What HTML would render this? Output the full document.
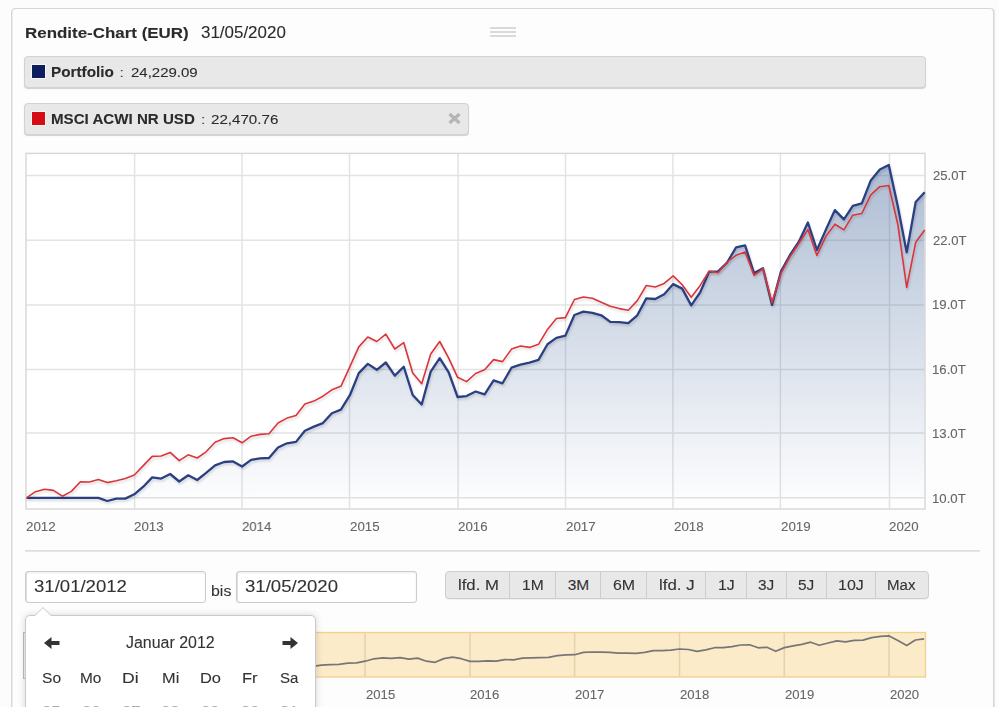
<!DOCTYPE html>
<html><head><meta charset="utf-8">
<style>
html,body{margin:0;padding:0;}
body{width:999px;height:707px;overflow:hidden;background:#fcfcfc;font-family:"Liberation Sans",sans-serif;position:relative;}
.abs{position:absolute;}
.t{position:absolute;white-space:nowrap;-webkit-text-stroke:0.1px;}
#panel{left:11px;top:8px;width:981px;height:720px;border:1px solid #d6d6d6;border-radius:4px;background:#fdfdfd;box-shadow:inset 1px 0 0 #ececec,1px 0 0 #e6e6e6;}
.title{left:26px;top:23px;font-size:14px;font-weight:bold;color:#2b2b2b;white-space:nowrap;}
.date{left:202px;top:23px;font-size:14px;color:#2b2b2b;white-space:nowrap;}
.ham{left:490px;width:26px;height:1.5px;background:#dadada;}
.leg{left:24px;height:30px;background:#e8e8e8;border:1px solid #d2d2d2;border-radius:4px;box-shadow:0 1px 1px rgba(0,0,0,0.18);}
.sq{position:absolute;left:7px;top:7.5px;width:13px;height:13px;box-shadow:0 0 0 1px rgba(255,255,255,0.7);}
.lt{position:absolute;left:27px;top:8px;font-size:13px;color:#2b2b2b;white-space:nowrap;}
.lt b{font-weight:bold;}
.ylab{left:933px;font-size:12px;color:#666;white-space:nowrap;}
.xlab{font-size:12px;color:#666;white-space:nowrap;top:519px;}
.nlab{font-size:12px;color:#666;white-space:nowrap;top:687px;}
.inp{top:571px;height:32px;border:1px solid #cccccc;background:#fff;border-radius:3px;box-shadow:inset 0 1px 2px rgba(0,0,0,0.08),inset 1px 0 0 #e4e4e4;font-size:16px;color:#333;box-sizing:border-box;padding-left:9px;line-height:28px;}
.bis{left:211px;top:583px;font-size:15px;color:#333;}
#btns{left:445px;top:571px;height:26px;border:1px solid #cdcdcd;border-radius:4px;background:#e8e8e8;overflow:hidden;display:flex;box-shadow:0 1px 0 rgba(0,0,0,0.05);}
#btns div{height:26px;line-height:26px;flex:none;text-align:center;font-size:15px;color:#333;border-left:1px solid #cdcdcd;box-sizing:border-box;}
#btns div:first-child{border-left:none;}
#pop{left:25px;top:615px;width:289px;height:120px;background:#fff;border:1px solid #c9c9c9;border-radius:5px;box-shadow:0 0 7px rgba(0,0,0,0.16);}
.wd{top:670px;font-size:15px;color:#333;white-space:nowrap;}
</style></head><body>
<div id="panel" class="abs"></div>
<div class="abs ham" style="top:27px"></div>
<div class="abs ham" style="top:31px"></div>
<div class="abs ham" style="top:35px"></div>

<div class="abs leg" style="top:56px;width:900px;"><div class="sq" style="background:#0c1e5e"></div></div>
<div class="abs leg" style="top:103px;width:443px;"><div class="sq" style="background:#d40e14"></div>
<svg style="position:absolute;left:422px;top:8px" width="15" height="13" viewBox="0 0 15 13"><path d="M2.5,2 L12.5,11 M12.5,2 L2.5,11" stroke="#b5b5b5" stroke-width="3.3"/></svg></div>

<svg class="abs" style="left:0;top:0" width="999" height="707">
<defs>
<linearGradient id="g1" x1="0" y1="165" x2="0" y2="510" gradientUnits="userSpaceOnUse">
<stop offset="0" stop-color="#28508c" stop-opacity="0.38"/>
<stop offset="1" stop-color="#28508c" stop-opacity="0"/>
</linearGradient>
<filter id="sh" x="-5%" y="-5%" width="110%" height="110%"><feGaussianBlur in="SourceAlpha" stdDeviation="1"/><feOffset dx="1" dy="1.5"/><feComponentTransfer><feFuncA type="linear" slope="0.15"/></feComponentTransfer><feMerge><feMergeNode/><feMergeNode in="SourceGraphic"/></feMerge></filter>
</defs>
<rect x="25.5" y="153.5" width="900" height="356" fill="#fff" stroke="none"/>
<g stroke="#e3e3e3" stroke-width="1.5" fill="none">
<path d="M26,175.5H925 M26,240.2H925 M26,304.9H925 M26,369.6H925 M26,433.0H925 M26,497.8H925"/>
<path d="M134.6,154V509 M242.0,154V509 M349.5,154V509 M458.1,154V509 M565.5,154V509 M672.9,154V509 M780.4,154V509 M889.5,154V509"/>
</g>
<path d="M26.5,509.5 L26.5,497.9 L35.5,497.9 L44.5,497.9 L53.4,497.9 L62.4,497.9 L71.4,497.9 L80.4,497.9 L89.4,497.9 L98.4,497.9 L107.3,501.0 L116.3,498.6 L125.3,498.6 L134.3,494.3 L143.3,486.7 L152.2,477.4 L161.2,478.6 L170.2,474.0 L179.2,481.5 L188.2,475.3 L197.2,480.0 L206.1,472.9 L215.1,465.4 L224.1,462.0 L233.1,461.4 L242.1,466.5 L251.1,459.9 L260.0,458.4 L269.0,458.0 L278.0,447.5 L287.0,443.3 L296.0,441.9 L304.9,430.8 L313.9,426.6 L322.9,423.1 L331.9,413.2 L340.9,409.6 L349.9,395.2 L358.8,373.1 L367.8,363.9 L376.8,369.8 L385.8,362.5 L394.8,375.6 L403.7,366.7 L412.7,395.0 L421.7,404.5 L430.7,371.6 L439.7,358.2 L448.7,372.4 L457.6,397.0 L466.6,396.1 L475.6,391.5 L484.6,394.4 L493.6,380.3 L502.5,383.3 L511.5,367.7 L520.5,364.7 L529.5,362.6 L538.5,359.9 L547.5,344.3 L556.4,337.9 L565.4,335.6 L574.4,315.0 L583.4,311.7 L592.4,312.9 L601.3,315.3 L610.3,321.9 L619.3,322.2 L628.3,323.1 L637.3,315.3 L646.3,298.4 L655.2,299.0 L664.2,294.2 L673.2,284.1 L682.2,288.6 L691.2,305.4 L700.2,292.4 L709.1,271.8 L718.1,271.4 L727.1,262.5 L736.1,247.3 L745.1,245.4 L754.0,273.1 L763.0,268.3 L772.0,304.9 L781.0,271.4 L790.0,255.0 L799.0,241.5 L807.9,222.5 L816.9,250.0 L825.9,229.6 L834.9,210.1 L843.9,219.4 L852.8,205.8 L861.8,203.3 L870.8,180.4 L879.8,169.5 L888.8,164.9 L897.8,206.2 L906.7,252.4 L915.7,202.0 L924.7,192.3 L924.7,509.5 Z" fill="url(#g1)"/>
<rect x="26" y="153.4" width="899" height="355.6" fill="none" stroke="#d6d6d6" stroke-width="1.4"/>
<polyline points="26.5,497.9 35.5,497.9 44.5,497.9 53.4,497.9 62.4,497.9 71.4,497.9 80.4,497.9 89.4,497.9 98.4,497.9 107.3,501.0 116.3,498.6 125.3,498.6 134.3,494.3 143.3,486.7 152.2,477.4 161.2,478.6 170.2,474.0 179.2,481.5 188.2,475.3 197.2,480.0 206.1,472.9 215.1,465.4 224.1,462.0 233.1,461.4 242.1,466.5 251.1,459.9 260.0,458.4 269.0,458.0 278.0,447.5 287.0,443.3 296.0,441.9 304.9,430.8 313.9,426.6 322.9,423.1 331.9,413.2 340.9,409.6 349.9,395.2 358.8,373.1 367.8,363.9 376.8,369.8 385.8,362.5 394.8,375.6 403.7,366.7 412.7,395.0 421.7,404.5 430.7,371.6 439.7,358.2 448.7,372.4 457.6,397.0 466.6,396.1 475.6,391.5 484.6,394.4 493.6,380.3 502.5,383.3 511.5,367.7 520.5,364.7 529.5,362.6 538.5,359.9 547.5,344.3 556.4,337.9 565.4,335.6 574.4,315.0 583.4,311.7 592.4,312.9 601.3,315.3 610.3,321.9 619.3,322.2 628.3,323.1 637.3,315.3 646.3,298.4 655.2,299.0 664.2,294.2 673.2,284.1 682.2,288.6 691.2,305.4 700.2,292.4 709.1,271.8 718.1,271.4 727.1,262.5 736.1,247.3 745.1,245.4 754.0,273.1 763.0,268.3 772.0,304.9 781.0,271.4 790.0,255.0 799.0,241.5 807.9,222.5 816.9,250.0 825.9,229.6 834.9,210.1 843.9,219.4 852.8,205.8 861.8,203.3 870.8,180.4 879.8,169.5 888.8,164.9 897.8,206.2 906.7,252.4 915.7,202.0 924.7,192.3" fill="none" stroke="#2b4082" stroke-width="2.3" stroke-linejoin="round" filter="url(#sh)"/>
<polyline points="26.5,497.9 35.5,491.7 44.5,489.2 53.4,490.4 62.4,496.2 71.4,491.4 80.4,481.8 89.4,482.0 98.4,479.4 107.3,482.6 116.3,480.8 125.3,478.4 134.3,475.0 143.3,465.6 152.2,456.4 161.2,456.0 170.2,452.4 179.2,460.6 188.2,454.8 197.2,458.0 206.1,451.8 215.1,442.2 224.1,438.6 233.1,437.8 242.1,442.8 251.1,436.2 260.0,434.4 269.0,433.7 278.0,423.0 287.0,418.1 296.0,415.6 304.9,404.0 313.9,401.1 322.9,396.2 331.9,389.8 340.9,386.3 349.9,366.7 358.8,346.9 367.8,337.0 376.8,341.5 385.8,334.2 394.8,349.0 403.7,342.6 412.7,373.1 421.7,383.7 430.7,354.0 439.7,341.5 448.7,358.2 457.6,377.3 466.6,381.6 475.6,373.5 484.6,369.8 493.6,359.6 502.5,361.6 511.5,349.1 520.5,346.0 529.5,347.4 538.5,344.3 547.5,329.4 556.4,318.5 565.4,317.6 574.4,299.5 583.4,297.0 592.4,298.2 601.3,302.3 610.3,306.2 619.3,308.6 628.3,310.2 637.3,300.6 646.3,285.5 655.2,287.0 664.2,283.4 673.2,275.9 682.2,284.8 691.2,297.3 700.2,285.4 709.1,271.1 718.1,272.7 727.1,261.9 736.1,255.3 745.1,252.0 754.0,275.3 763.0,268.9 772.0,302.6 781.0,273.4 790.0,256.7 799.0,243.2 807.9,229.6 816.9,255.4 825.9,236.4 834.9,224.2 843.9,229.9 852.8,215.2 861.8,213.5 870.8,194.8 879.8,186.7 888.8,185.5 897.8,224.2 906.7,287.5 915.7,242.3 924.7,230.0" fill="none" stroke="#d9363c" stroke-width="1.6" stroke-linejoin="round" filter="url(#sh)"/>
<path d="M25,550.9H980" stroke="#dedede" stroke-width="1.6"/>
<!-- navigator -->
<rect x="25" y="632.5" width="900.5" height="44.5" fill="#fcebc8" stroke="#f0d28e" stroke-width="1.3"/>
<path d="M365,633V676 M470,633V676 M574.6,633V676 M679.5,633V676 M784.3,633V676 M889,633V676" stroke="#e6d2a8" stroke-width="1.5"/>
<polyline points="50.8,672.5 59.6,672.5 68.3,672.5 77.0,672.5 85.8,672.5 94.5,672.5 103.2,672.5 112.0,672.5 120.7,672.5 129.4,672.9 138.2,672.6 146.9,672.6 155.6,672.1 164.4,671.3 173.1,670.3 181.8,670.4 190.6,669.9 199.3,670.7 208.0,670.0 216.8,670.6 225.5,669.8 234.2,669.0 243.0,668.6 251.7,668.5 260.4,669.1 269.2,668.4 277.9,668.2 286.6,668.1 295.4,667.0 304.1,666.5 312.8,666.4 321.6,665.1 330.3,664.7 339.0,664.3 347.8,663.2 356.5,662.8 365.2,661.2 374.0,658.8 382.7,657.8 391.4,658.4 400.2,657.6 408.9,659.1 417.6,658.1 426.4,661.2 435.1,662.3 443.8,658.6 452.6,657.2 461.3,658.7 470.0,661.4 478.7,661.3 487.5,660.8 496.2,661.1 504.9,659.6 513.7,659.9 522.4,658.2 531.1,657.9 539.9,657.6 548.6,657.4 557.3,655.6 566.1,654.9 574.8,654.7 583.5,652.4 592.3,652.0 601.0,652.2 609.7,652.4 618.5,653.2 627.2,653.2 635.9,653.3 644.7,652.4 653.4,650.6 662.1,650.7 670.9,650.1 679.6,649.0 688.3,649.5 697.1,651.4 705.8,649.9 714.5,647.7 723.3,647.6 732.0,646.6 740.7,645.0 749.5,644.8 758.2,647.8 766.9,647.3 775.7,651.3 784.4,647.6 793.1,645.8 801.9,644.3 810.6,642.2 819.3,645.3 828.1,643.0 836.8,640.9 845.5,641.9 854.3,640.4 863.0,640.1 871.7,637.6 880.5,636.4 889.2,635.9 897.9,640.4 906.7,645.5 915.4,640.0 924.1,638.9" fill="none" stroke="#767676" stroke-width="1.7" stroke-linejoin="round"/>
</svg>

<div class="abs inp" style="left:25px;width:181px;"></div>
<div class="abs inp" style="left:236px;width:181px;"></div>

<div id="btns" class="abs"><div style="width:63px"></div><div style="width:46px"></div><div style="width:45px"></div><div style="width:46px"></div><div style="width:59px"></div><div style="width:41px"></div><div style="width:40px"></div><div style="width:40px"></div><div style="width:49px"></div><div style="width:53px"></div></div>

<div class="abs" style="left:22.5px;top:632px;width:2px;height:45px;border:1px solid #bdbdbd;border-right:none;background:#f2f2f2"></div>
<div id="pop" class="abs"></div>
<svg class="abs" style="left:0;top:0" width="999" height="707">
<path d="M34.5,616 L43,607.5 L51.5,616" fill="#fff" stroke="#c9c9c9" stroke-width="1"/>
<path d="M44,643 L51.5,637 L51.5,641 L59.5,641 L59.5,645 L51.5,645 L51.5,649 Z" fill="#333"/>
<path d="M298,643 L290.5,637 L290.5,641 L282.5,641 L282.5,645 L290.5,645 L290.5,649 Z" fill="#333"/>
</svg>
<div class="t" style="left:25.10px;top:24.59px;font-size:15.36px;line-height:15.36px;color:#2b2b2b;font-weight:bold;transform:scaleX(1.1023);transform-origin:0 0;">Rendite-Chart (EUR)</div>
<div class="t" style="left:201.32px;top:24.55px;font-size:15.65px;line-height:15.65px;color:#2b2b2b;transform:scaleX(1.0834);transform-origin:0 0;">31/05/2020</div>
<div class="t" style="left:50.71px;top:65.82px;font-size:13.91px;line-height:13.91px;color:#2b2b2b;font-weight:bold;transform:scaleX(1.1001);transform-origin:0 0;">Portfolio</div>
<div class="t" style="left:119.79px;top:65.89px;font-size:13.48px;line-height:13.48px;color:#2b2b2b;">:</div>
<div class="t" style="left:130.75px;top:65.89px;font-size:13.48px;line-height:13.48px;color:#2b2b2b;transform:scaleX(1.1125);transform-origin:0 0;">24,229.09</div>
<div class="t" style="left:50.72px;top:112.82px;font-size:13.91px;line-height:13.91px;color:#2b2b2b;font-weight:bold;transform:scaleX(1.0869);transform-origin:0 0;">MSCI ACWI NR USD</div>
<div class="t" style="left:201.19px;top:112.89px;font-size:13.48px;line-height:13.48px;color:#2b2b2b;">:</div>
<div class="t" style="left:211.24px;top:112.89px;font-size:13.48px;line-height:13.48px;color:#2b2b2b;transform:scaleX(1.1231);transform-origin:0 0;">22,470.76</div>
<div class="t" style="left:932.65px;top:171.04px;font-size:11.88px;line-height:11.88px;color:#666;transform:scaleX(1.1005);transform-origin:0 0;">25.0T</div>
<div class="t" style="left:932.65px;top:235.54px;font-size:11.88px;line-height:11.88px;color:#666;transform:scaleX(1.1005);transform-origin:0 0;">22.0T</div>
<div class="t" style="left:932.31px;top:300.04px;font-size:11.88px;line-height:11.88px;color:#666;transform:scaleX(1.1117);transform-origin:0 0;">19.0T</div>
<div class="t" style="left:932.31px;top:364.54px;font-size:11.88px;line-height:11.88px;color:#666;transform:scaleX(1.1117);transform-origin:0 0;">16.0T</div>
<div class="t" style="left:932.31px;top:429.04px;font-size:11.88px;line-height:11.88px;color:#666;transform:scaleX(1.1117);transform-origin:0 0;">13.0T</div>
<div class="t" style="left:932.31px;top:493.54px;font-size:11.88px;line-height:11.88px;color:#666;transform:scaleX(1.1117);transform-origin:0 0;">10.0T</div>
<div class="t" style="left:26.33px;top:519.73px;font-size:13.19px;line-height:13.19px;color:#666;transform:scaleX(1.0134);transform-origin:0 0;">2012</div>
<div class="t" style="left:134.03px;top:519.73px;font-size:13.19px;line-height:13.19px;color:#666;transform:scaleX(1.0086);transform-origin:0 0;">2013</div>
<div class="t" style="left:241.94px;top:519.73px;font-size:13.19px;line-height:13.19px;color:#666;">2014</div>
<div class="t" style="left:349.83px;top:519.73px;font-size:13.19px;line-height:13.19px;color:#666;transform:scaleX(1.0086);transform-origin:0 0;">2015</div>
<div class="t" style="left:457.73px;top:519.73px;font-size:13.19px;line-height:13.19px;color:#666;transform:scaleX(1.0086);transform-origin:0 0;">2016</div>
<div class="t" style="left:565.63px;top:519.73px;font-size:13.19px;line-height:13.19px;color:#666;transform:scaleX(1.0134);transform-origin:0 0;">2017</div>
<div class="t" style="left:673.53px;top:519.73px;font-size:13.19px;line-height:13.19px;color:#666;transform:scaleX(1.0086);transform-origin:0 0;">2018</div>
<div class="t" style="left:781.43px;top:519.73px;font-size:13.19px;line-height:13.19px;color:#666;transform:scaleX(1.0110);transform-origin:0 0;">2019</div>
<div class="t" style="left:889.34px;top:519.73px;font-size:13.19px;line-height:13.19px;color:#666;transform:scaleX(1.0063);transform-origin:0 0;">2020</div>
<div class="t" style="left:365.54px;top:688.92px;font-size:12.61px;line-height:12.61px;color:#666;transform:scaleX(1.0401);transform-origin:0 0;">2015</div>
<div class="t" style="left:470.34px;top:688.92px;font-size:12.61px;line-height:12.61px;color:#666;transform:scaleX(1.0401);transform-origin:0 0;">2016</div>
<div class="t" style="left:575.14px;top:688.92px;font-size:12.61px;line-height:12.61px;color:#666;transform:scaleX(1.0450);transform-origin:0 0;">2017</div>
<div class="t" style="left:679.94px;top:688.92px;font-size:12.61px;line-height:12.61px;color:#666;transform:scaleX(1.0401);transform-origin:0 0;">2018</div>
<div class="t" style="left:784.74px;top:688.92px;font-size:12.61px;line-height:12.61px;color:#666;transform:scaleX(1.0426);transform-origin:0 0;">2019</div>
<div class="t" style="left:889.55px;top:688.92px;font-size:12.61px;line-height:12.61px;color:#666;transform:scaleX(1.0377);transform-origin:0 0;">2020</div>
<div class="t" style="left:34.46px;top:577.72px;font-size:17.10px;line-height:17.10px;color:#333;transform:scaleX(1.0862);transform-origin:0 0;">31/01/2012</div>
<div class="t" style="left:210.96px;top:584.04px;font-size:14.48px;line-height:14.48px;color:#333;transform:scaleX(1.1001);transform-origin:0 0;">bis</div>
<div class="t" style="left:245.06px;top:578.82px;font-size:15.80px;line-height:15.80px;color:#333;transform:scaleX(1.1762);transform-origin:0 0;">31/05/2020</div>
<div class="t" style="left:126.46px;top:634.26px;font-size:16.23px;line-height:16.23px;color:#333;transform:scaleX(0.9832);transform-origin:0 0;">Januar 2012</div>
<div class="t" style="left:41.90px;top:670.91px;font-size:14.64px;line-height:14.64px;color:#333;transform:scaleX(1.0654);transform-origin:0 0;">So</div>
<div class="t" style="left:80.07px;top:670.91px;font-size:14.64px;line-height:14.64px;color:#333;transform:scaleX(1.0543);transform-origin:0 0;">Mo</div>
<div class="t" style="left:122.49px;top:670.91px;font-size:14.64px;line-height:14.64px;color:#333;transform:scaleX(1.2031);transform-origin:0 0;">Di</div>
<div class="t" style="left:161.79px;top:670.91px;font-size:14.64px;line-height:14.64px;color:#333;transform:scaleX(1.1186);transform-origin:0 0;">Mi</div>
<div class="t" style="left:199.68px;top:670.91px;font-size:14.64px;line-height:14.64px;color:#333;transform:scaleX(1.1238);transform-origin:0 0;">Do</div>
<div class="t" style="left:242.27px;top:670.91px;font-size:14.64px;line-height:14.64px;color:#333;transform:scaleX(1.1319);transform-origin:0 0;">Fr</div>
<div class="t" style="left:280.12px;top:670.91px;font-size:14.64px;line-height:14.64px;color:#333;transform:scaleX(1.0291);transform-origin:0 0;">Sa</div>
<div class="t" style="left:457.51px;top:576.77px;font-size:15.51px;line-height:15.51px;color:#333;transform:scaleX(1.0790);transform-origin:0 0;">lfd. M</div>
<div class="t" style="left:522.33px;top:576.77px;font-size:15.51px;line-height:15.51px;color:#333;transform:scaleX(1.0066);transform-origin:0 0;">1M</div>
<div class="t" style="left:567.68px;top:576.77px;font-size:15.51px;line-height:15.51px;color:#333;">3M</div>
<div class="t" style="left:612.80px;top:576.77px;font-size:15.51px;line-height:15.51px;color:#333;transform:scaleX(1.0277);transform-origin:0 0;">6M</div>
<div class="t" style="left:658.90px;top:576.77px;font-size:15.51px;line-height:15.51px;color:#333;transform:scaleX(1.0868);transform-origin:0 0;">lfd. J</div>
<div class="t" style="left:718.11px;top:576.77px;font-size:15.51px;line-height:15.51px;color:#333;transform:scaleX(1.0261);transform-origin:0 0;">1J</div>
<div class="t" style="left:758.48px;top:576.77px;font-size:15.51px;line-height:15.51px;color:#333;transform:scaleX(0.9947);transform-origin:0 0;">3J</div>
<div class="t" style="left:798.48px;top:576.77px;font-size:15.51px;line-height:15.51px;color:#333;transform:scaleX(0.9947);transform-origin:0 0;">5J</div>
<div class="t" style="left:838.40px;top:576.77px;font-size:15.51px;line-height:15.51px;color:#333;transform:scaleX(1.0335);transform-origin:0 0;">10J</div>
<div class="t" style="left:887.29px;top:576.77px;font-size:15.51px;line-height:15.51px;color:#333;transform:scaleX(0.9745);transform-origin:0 0;">Max</div>
<div class="t" style="left:42.17px;top:703.73px;font-size:14.49px;line-height:14.49px;color:#aaa;transform:scaleX(1.1500);transform-origin:0 0;">25</div>
<div class="t" style="left:81.67px;top:703.73px;font-size:14.49px;line-height:14.49px;color:#aaa;transform:scaleX(1.1500);transform-origin:0 0;">26</div>
<div class="t" style="left:121.66px;top:703.73px;font-size:14.49px;line-height:14.49px;color:#aaa;transform:scaleX(1.1614);transform-origin:0 0;">27</div>
<div class="t" style="left:161.17px;top:703.73px;font-size:14.49px;line-height:14.49px;color:#aaa;transform:scaleX(1.1500);transform-origin:0 0;">28</div>
<div class="t" style="left:200.66px;top:703.73px;font-size:14.49px;line-height:14.49px;color:#aaa;transform:scaleX(1.1557);transform-origin:0 0;">29</div>
<div class="t" style="left:240.84px;top:703.73px;font-size:14.49px;line-height:14.49px;color:#aaa;transform:scaleX(1.1333);transform-origin:0 0;">30</div>
<div class="t" style="left:280.34px;top:703.73px;font-size:14.49px;line-height:14.49px;color:#aaa;transform:scaleX(1.1444);transform-origin:0 0;">31</div>
</body></html>
